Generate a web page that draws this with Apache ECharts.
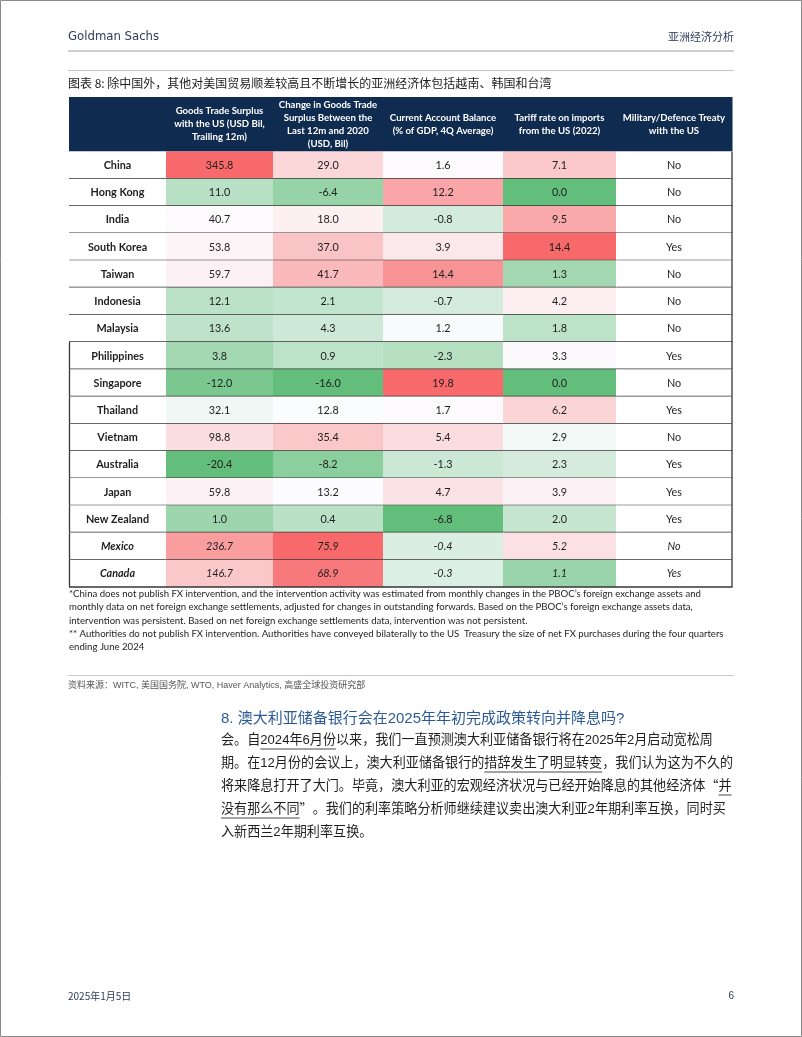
<!DOCTYPE html>
<html><head><meta charset="utf-8">
<script src="https://cdn.jsdelivr.net/npm/echarts@6/dist/echarts.min.js"></script>
<style>html,body{margin:0;padding:0;background:#fff}#c{width:802px;height:1037px}</style>
</head><body><div id="c"></div>
<script>
// ---------------- data ----------------
const countries = ['China','Hong Kong','India','South Korea','Taiwan','Indonesia','Malaysia','Philippines','Singapore','Thailand','Vietnam','Australia','Japan','New Zealand','Mexico','Canada'];
const tradeSurplus   = [345.8, 11.0, 40.7, 53.8, 59.7, 12.1, 13.6, 3.8, -12.0, 32.1, 98.8, -20.4, 59.8, 1.0, 236.7, 146.7];
const surplusChange  = [29.0, -6.4, 18.0, 37.0, 41.7, 2.1, 4.3, 0.9, -16.0, 12.8, 35.4, -8.2, 13.2, 0.4, 75.9, 68.9];
const currentAccount = [1.6, 12.2, -0.8, 3.9, 14.4, -0.7, 1.2, -2.3, 19.8, 1.7, 5.4, -1.3, 4.7, -6.8, -0.4, -0.3];
const tariffRate     = [7.1, 0.0, 9.5, 14.4, 1.3, 4.2, 1.8, 3.3, 0.0, 6.2, 2.9, 2.3, 3.9, 2.0, 5.2, 1.1];
const defenceTreaty  = ['No','No','No','Yes','No','No','No','Yes','No','Yes','No','Yes','Yes','Yes','No','Yes'];
const italicCountries = ['Mexico','Canada'];
const headers = [
  [],
  ['Goods Trade Surplus','with the US (USD Bil,','Trailing 12m)'],
  ['Change in Goods Trade','Surplus Between the','Last 12m and 2020','(USD, Bil)'],
  ['Current Account Balance','(% of GDP, 4Q Average)'],
  ['Tariff rate on imports','from the US (2022)'],
  ['Military/Defence Treaty','with the US']
];
const title = '图表 8: 除中国外，其他对美国贸易顺差较高且不断增长的亚洲经济体包括越南、韩国和台湾';
const footnotes = [
  '*China does not publish FX intervention, and the intervention activity was estimated from monthly changes in the PBOC’s foreign exchange assets and',
  'monthly data on net foreign exchange settlements, adjusted for changes in outstanding forwards. Based on the PBOC’s foreign exchange assets data,',
  'intervention was persistent. Based on net foreign exchange settlements data, intervention was not persistent.',
  '** Authorities do not publish FX intervention. Authorities have conveyed bilaterally to the US  Treasury the size of net FX purchases during the four quarters',
  'ending June 2024'
];
const sourceText = '资料来源：WITC, 美国国务院, WTO, Haver Analytics, 高盛全球投资研究部';
const sectionTitle = '8. 澳大利亚储备银行会在2025年年初完成政策转向并降息吗?';
// [text, underlined, cjk-font]
const bodyLines = [
  [['会。自',0],['2024年6月份',1],['以来，我们一直预测澳大利亚储备银行将在2025年2月启动宽松周',0]],
  [['期。在12月份的会议上，澳大利亚储备银行的',0],['措辞发生了明显转变',1],['，我们认为这为不久的',0]],
  [['将来降息打开了大门。毕竟，澳大利亚的宏观经济状况与已经开始降息的其他经济体',0],['“',0,1],['并',1]],
  [['没有那么不同',1],['”',0,1],['。我们的利率策略分析师继续建议卖出澳大利亚2年期利率互换，同时买',0]],
  [['入新西兰2年期利率互换。',0]]
];

// ---------------- layout constants ----------------
const colWidths = [97,107,110,120,113,116];
const colEdges = [0];
colWidths.forEach(w => colEdges.push(colEdges[colEdges.length-1] + w));
const tableW = colEdges[colEdges.length-1];
const NAVY = '#0f2b50';
const LINE = '#363636';
const TFONT = 'Lato, "Open Sans", sans-serif';
const borderFromRow = countries.indexOf('Philippines');

// Excel-like 3-colour scale (min green, 50th percentile white, max red)
const GREEN = [99,190,123], WHITE = [252,252,255], RED = [248,105,107];
function scaleFor(arr) {
  const s = arr.slice().sort((a,b)=>a-b);
  const n = s.length;
  const pos = (n-1)*0.5, lo = Math.floor(pos), hi = Math.ceil(pos);
  const mid = s[lo] + (s[hi]-s[lo])*(pos-lo);
  return {min:s[0], mid, max:s[n-1]};
}
function mix(a,b,t){return 'rgb('+a.map((v,i)=>Math.round(v+(b[i]-v)*t)).join(',')+')';}
function colorOf(v, sc) {
  if (v <= sc.mid) { const t = sc.mid===sc.min?0:(v-sc.min)/(sc.mid-sc.min); return mix(GREEN, WHITE, t); }
  const t = sc.max===sc.mid?0:(v-sc.mid)/(sc.max-sc.mid); return mix(WHITE, RED, t);
}
const numCols = [tradeSurplus, surplusChange, currentAccount, tariffRate];
const scales = numCols.map(scaleFor);

// ---------------- cells ----------------
const rowKeys = ['h1','h2'].concat(countries);
const cells = [];
for (let c = 0; c < 6; c++) cells.push({value:[c, 0], header:true, col:c, lines:headers[c]});
countries.forEach((name, r) => {
  const italic = italicCountries.indexOf(name) >= 0;
  cells.push({value:[0, r+2], col:0, row:r, text:name, bold:true, italic, fill:'#ffffff'});
  numCols.forEach((arr, k) => {
    cells.push({value:[k+1, r+2], col:k+1, row:r, text:arr[r].toFixed(1), italic, fill:colorOf(arr[r], scales[k])});
  });
  cells.push({value:[5, r+2], col:5, row:r, text:defenceTreaty[r], italic, fill:'#ffffff'});
});

function renderItem(params, api) {
  const d = cells[params.dataIndex];
  const c = d.col;
  const rowIdx = api.value(1);
  const h = api.size([0,1])[1];
  const pA = api.coord([colEdges[c], rowIdx]);
  const pB = api.coord([colEdges[c+1], rowIdx]);
  const x = pA[0], w = pB[0]-pA[0];
  const yTop = pA[1]-h/2;
  const children = [];
  if (d.header) {
    const hh = 2*h;
    children.push({type:'rect', shape:{x:x, y:yTop, width:w+0.5, height:hh}, style:{fill:NAVY}});
    if (d.lines.length) {
      children.push({type:'text', style:{text:d.lines.join('\n'), x:x+w/2, y:yTop+hh/2, align:'center', verticalAlign:'middle',
        fill:'#ffffff', fontFamily:TFONT, fontWeight:'bold', fontSize:9.6, lineHeight:13}});
    }
    return {type:'group', children};
  }
  children.push({type:'rect', shape:{x:x, y:yTop, width:w+0.5, height:h}, style:{fill:d.fill}});
  children.push({type:'text', style:{text:d.text, x:x+w/2, y:yTop+h/2+0.5, align:'center', verticalAlign:'middle',
    fill:'#1e1e1e', fontFamily:TFONT, fontWeight:d.bold?'bold':'normal', fontStyle:d.italic?'italic':'normal', fontSize:10.8}});
  children.push({type:'line', shape:{x1:x, y1:yTop+h, x2:x+w+0.5, y2:yTop+h}, style:{stroke:LINE, lineWidth:1.4}});
  if (c === 0 && d.row >= borderFromRow) {
    children.push({type:'line', shape:{x1:x+0.5, y1:yTop, x2:x+0.5, y2:yTop+h}, style:{stroke:LINE, lineWidth:1.3}});
  }
  if (c === 5) {
    children.push({type:'line', shape:{x1:x+w, y1:yTop, x2:x+w, y2:yTop+h}, style:{stroke:LINE, lineWidth:1.3}});
  }
  return {type:'group', children};
}

// ---------------- page text ----------------
const measureCtx = document.createElement('canvas').getContext('2d');
function textWidth(t, font){ measureCtx.font = font; return measureCtx.measureText(t).width; }
const BODY_FONT = '13.1px "Liberation Sans", "Noto Sans CJK SC", sans-serif';
const BODY_CJK_FONT = '13.1px "Noto Sans CJK SC", sans-serif';
const graphics = [];
graphics.push({type:'rect', shape:{x:0.5, y:0.5, width:801, height:1036}, style:{fill:'none', stroke:'#8a8a8a', lineWidth:1}, silent:true});
graphics.push({type:'text', style:{text:'Goldman Sachs', x:68, y:37, verticalAlign:'middle', fill:'#2b3d5c', font:'13px "DejaVu Sans Condensed", "Liberation Sans Narrow", sans-serif'}});
graphics.push({type:'text', style:{text:'亚洲经济分析', x:734, y:37, align:'right', verticalAlign:'middle', fill:'#2b3d5c', font:'11px "Noto Sans CJK SC", sans-serif'}});
graphics.push({type:'line', shape:{x1:68, y1:51, x2:734, y2:51}, style:{stroke:'#cfcfcf', lineWidth:2}});
graphics.push({type:'line', shape:{x1:68, y1:70.5, x2:734, y2:70.5}, style:{stroke:'#c4c4c4', lineWidth:1}});
graphics.push({type:'text', style:{text:title, x:68, y:83, verticalAlign:'middle', fill:'#222', font:'12px "Noto Sans CJK SC", sans-serif'}});
footnotes.forEach((t,i)=>{
  graphics.push({type:'text', style:{text:t, x:69, y:594+i*13.3, verticalAlign:'middle', fill:'#1e1e1e', font:'9.6px Lato, sans-serif'}});
});
graphics.push({type:'line', shape:{x1:68, y1:675.5, x2:734, y2:675.5}, style:{stroke:'#c8c8c8', lineWidth:1}});
graphics.push({type:'text', style:{text:sourceText, x:68, y:686, verticalAlign:'middle', fill:'#555', font:'9px "Liberation Sans", "Noto Sans CJK SC", sans-serif'}});
graphics.push({type:'text', style:{text:sectionTitle, x:221, y:719, verticalAlign:'middle', fill:'#2c5a98', font:'15px "Liberation Sans", "Noto Sans CJK SC", sans-serif'}});
bodyLines.forEach((segs, i) => {
  let x = 221; const y = 740 + i*23;
  segs.forEach(([t, u, cjk]) => {
    const f = cjk ? BODY_CJK_FONT : BODY_FONT;
    const w = textWidth(t, f);
    graphics.push({type:'text', style:{text:t, x:x, y:y, verticalAlign:'middle', fill:'#1e1e1e', font:f}});
    if (u) graphics.push({type:'line', shape:{x1:x, y1:y+9, x2:x+w, y2:y+9}, style:{stroke:'#333', lineWidth:0.9}});
    x += w;
  });
});
graphics.push({type:'text', style:{text:'2025年1月5日', x:68, y:996, verticalAlign:'middle', fill:'#2b3d5c', font:'10px "Noto Sans CJK SC", sans-serif'}});
graphics.push({type:'text', style:{text:'6', x:734, y:996, align:'right', verticalAlign:'middle', fill:'#2b3d5c', font:'10px "Liberation Sans", sans-serif'}});

const chart = echarts.init(document.getElementById('c'), null, {renderer:'canvas'});
chart.setOption({
  animation:false,
  backgroundColor:'#ffffff',
  grid:{left:69, top:97, width:tableW, height:490},
  xAxis:{type:'value', min:0, max:tableW, show:false},
  yAxis:{type:'category', data:rowKeys, inverse:true, show:false},
  series:[{type:'custom', renderItem, data:cells, silent:true, clip:false}],
  graphic:graphics
});
</script></body></html>
